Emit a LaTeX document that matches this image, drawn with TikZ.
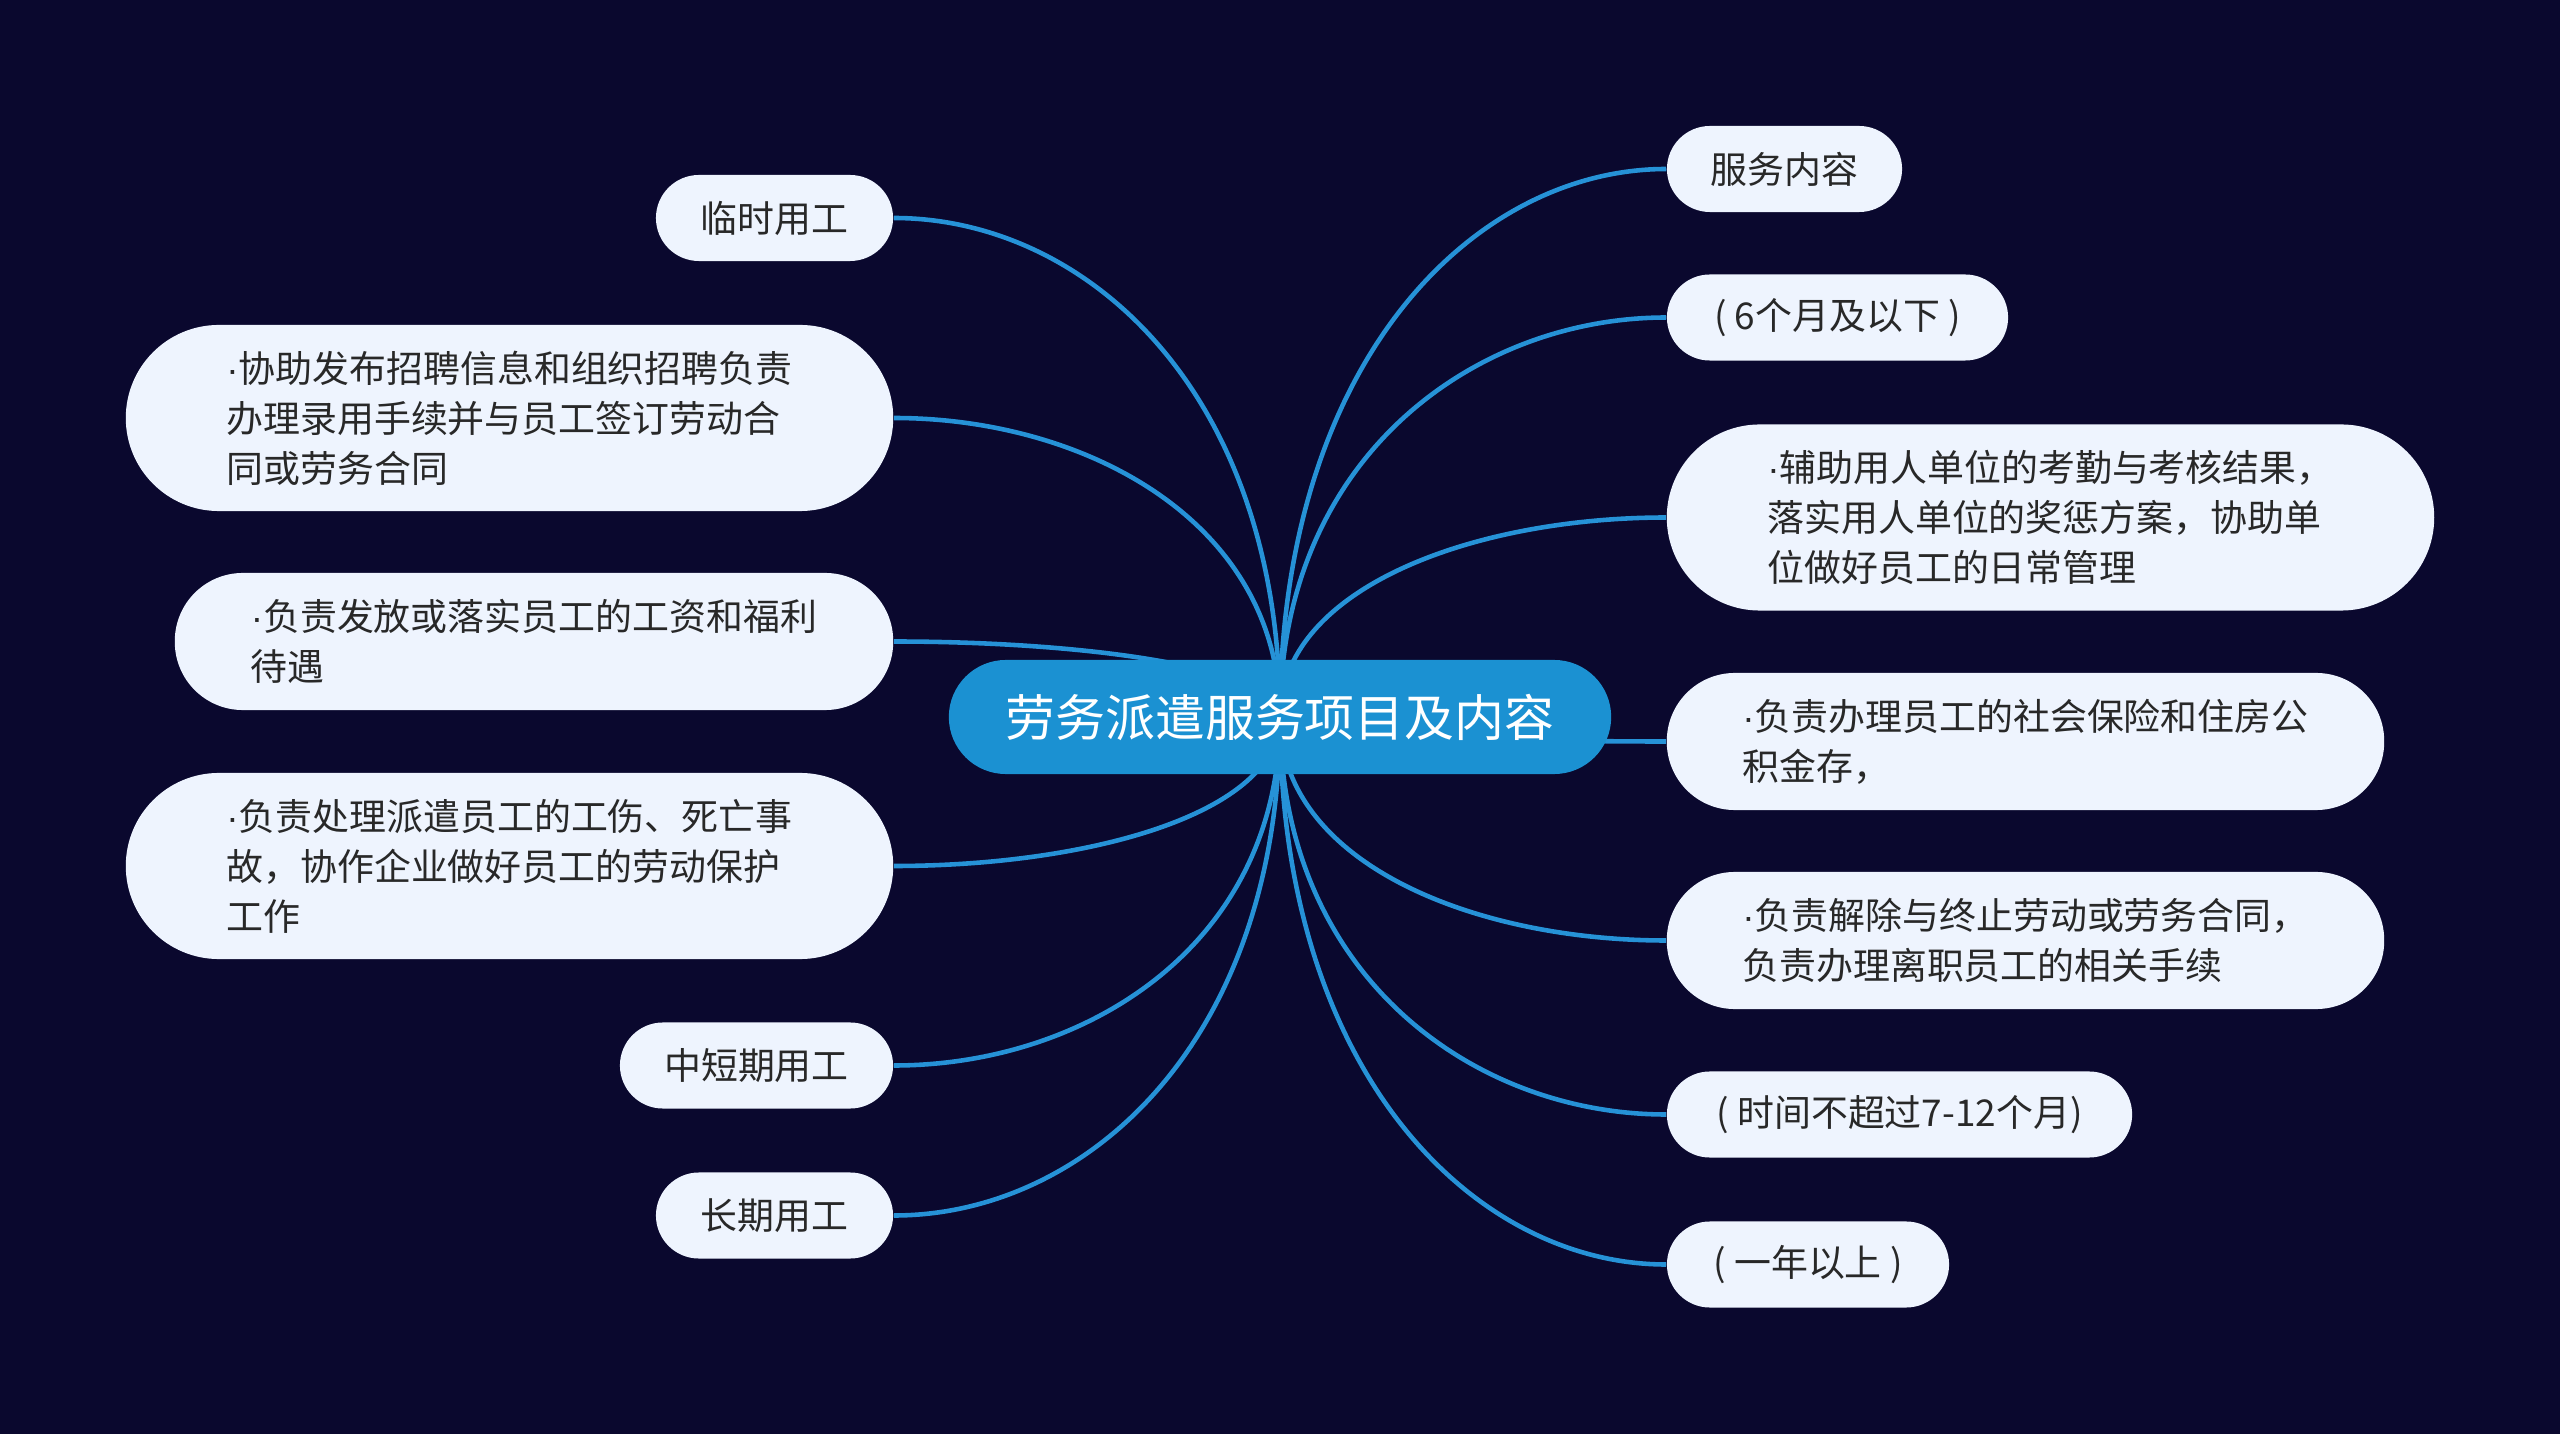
\documentclass[tikz,border=0pt]{standalone}
\usepackage{fontspec}
\setmainfont{Noto Sans CJK SC}
\newfontfamily\latinfont{Liberation Sans}
\newcommand{\mdot}{{\latinfont ·}}
\definecolor{bgnavy}{RGB}{10,8,46}
\definecolor{hubblue}{RGB}{27,145,210}
\definecolor{linkblue}{RGB}{38,146,215}
\definecolor{leaffill}{RGB}{238,244,254}
\definecolor{leaftext}{RGB}{40,40,40}
\pgfdeclarelayer{bg}
\pgfdeclarelayer{links}
\pgfsetlayers{bg,links,main}
\tikzset{
  hub/.style={fill=hubblue, text=white, font=\fontsize{14.2}{17}\selectfont,
    minimum width=6.62cm, minimum height=1.14cm, rounded corners=0.57cm},
  leaf/.style={fill=leaffill, text=leaftext, font=\fontsize{10.5}{14.2}\selectfont,
    align=left, inner xsep=0.2cm},
  pill/.style={leaf, minimum height=0.86cm, rounded corners=0.43cm},
  pillii/.style={leaf, minimum height=1.37cm, rounded corners=0.68cm},
  pilliii/.style={leaf, minimum height=1.86cm, rounded corners=0.93cm},
  link/.style={draw=linkblue, line width=1.3pt},
}
\begin{document}
\begin{tikzpicture}[x=0.01cm, y=-0.01cm]
% 背景
\begin{pgfonlayer}{bg}
\fill[bgnavy] (0,0) rectangle (2560,1434);
\end{pgfonlayer}
\useasboundingbox (0,0) rectangle (2560,1434);
% 中心主题
\node[hub] (hub) at (1280,717) {劳务派遣服务项目及内容};
% 左侧
\node[pill, minimum width=2.37cm] (t1) at (774.5,218) {临时用工};
\node[pilliii, minimum width=7.67cm] (t2) at (509.5,418) {\mdot 协助发布招聘信息和组织招聘负责\\办理录用手续并与员工签订劳动合\\同或劳务合同};
\node[pillii, minimum width=7.18cm] (t3) at (534,641.5) {\mdot 负责发放或落实员工的工资和福利\\待遇};
\node[pilliii, minimum width=7.67cm] (t4) at (509.5,866) {\mdot 负责处理派遣员工的工伤、死亡事\\故，协作企业做好员工的劳动保护\\工作};
\node[pill, minimum width=2.73cm] (t5) at (756.5,1065.5) {中短期用工};
\node[pill, minimum width=2.37cm] (t6) at (774.5,1215.5) {长期用工};
% 右侧
\node[pill, minimum width=2.35cm] (s1) at (1784.5,169) {服务内容};
\node[pill, minimum width=3.41cm] (s2) at (1837.5,317.5) {( 6个月及以下 )};
\node[pilliii, minimum width=7.67cm] (s3) at (2050.5,517.5) {\mdot 辅助用人单位的考勤与考核结果，\\落实用人单位的奖惩方案，协助单\\位做好员工的日常管理};
\node[pillii, minimum width=7.17cm] (s4) at (2025.5,741.5) {\mdot 负责办理员工的社会保险和住房公\\积金存，};
\node[pillii, minimum width=7.17cm] (s5) at (2025.5,940.5) {\mdot 负责解除与终止劳动或劳务合同，\\负责办理离职员工的相关手续};
\node[pill, minimum width=4.65cm] (s6) at (1899.5,1114.5) {( 时间不超过7-12个月)};
\node[pill, minimum width=2.82cm] (s7) at (1808,1264.5) {( 一年以上 )};
% 连线
\begin{pgfonlayer}{links}
\draw[link] (hub.center) .. controls (1280,393) and (1087,218) .. (t1.east);
\draw[link] (hub.center) .. controls (1280,523) and (1087,418) .. (t2.east);
\draw[link] (hub.center) .. controls (1280,668) and (1087,641.5) .. (t3.east);
\draw[link] (hub.center) .. controls (1280,814) and (1087,866) .. (t4.east);
\draw[link] (hub.center) .. controls (1280,944) and (1087,1065.5) .. (t5.east);
\draw[link] (hub.center) .. controls (1280,1041) and (1087,1215.5) .. (t6.east);
\draw[link] (hub.center) .. controls (1280,361) and (1474,169) .. (s1.west);
\draw[link] (hub.center) .. controls (1280,458) and (1474,317.5) .. (s2.west);
\draw[link] (hub.center) .. controls (1280,588) and (1474,517.5) .. (s3.west);
\draw[link] (hub.center) .. controls (1280,733) and (1474,741.5) .. (s4.west);
\draw[link] (hub.center) .. controls (1280,863) and (1474,940.5) .. (s5.west);
\draw[link] (hub.center) .. controls (1280,976) and (1474,1114.5) .. (s6.west);
\draw[link] (hub.center) .. controls (1280,1073) and (1474,1264.5) .. (s7.west);
\end{pgfonlayer}
\end{tikzpicture}
\end{document}
